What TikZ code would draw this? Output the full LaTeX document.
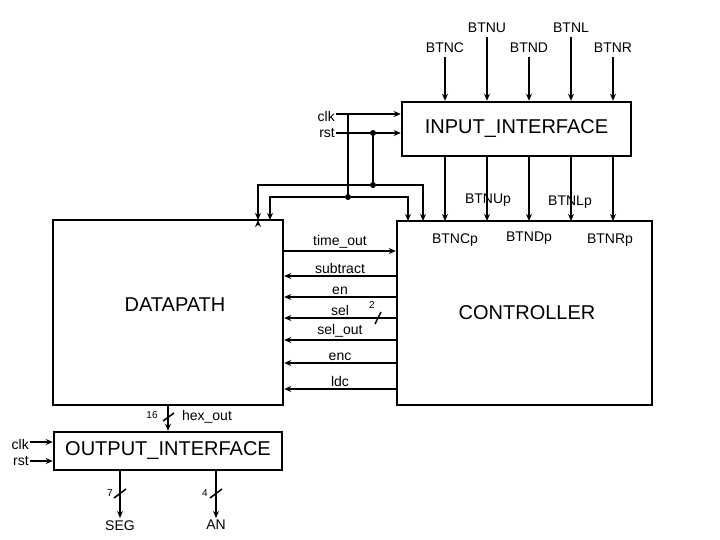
\documentclass[tikz,border=0pt]{standalone}
\usepackage{fontspec}
\setmainfont{Liberation Sans}
\usetikzlibrary{positioning,arrows.meta}
\begin{document}
\begin{tikzpicture}[x=1pt,y=-1pt,
                block/.style={rectangle, draw=black, line width=2.5pt, inner sep=0pt},
                sig/.style={line width=2.5pt},
                lbl/.style={font=\fontsize{14}{14}\selectfont, inner sep=1pt},
                big/.style={font=\fontsize{20}{20}\selectfont},
                num/.style={font=\fontsize{10}{10}\selectfont, inner sep=1pt},
                dot/.style={circle, fill=black, inner sep=0pt, minimum size=6pt},
                >={Stealth[length=7pt,width=6pt]}
            ]
            \useasboundingbox (0,0) rectangle (720,540);

            %blocks
            \node[block, minimum width=229pt, minimum height=54pt] (II) at (516.5,129) {};
            \node[big] at (II) {INPUT\_INTERFACE};
            \node[block, minimum width=230pt, minimum height=185pt] (DP) at (168,312.5) {};
            \node[big] at (175,305) {DATAPATH};
            \node[block, minimum width=255pt, minimum height=184pt] (CT) at (524.5,313) {};
            \node[big] at (527,313) {CONTROLLER};
            \node[block, minimum width=228pt, minimum height=38pt] (OI) at (168,451) {};
            \node[big] at (OI) {OUTPUT\_INTERFACE};

            %buttons in
            \foreach \name/\x/\y in {BTNC/445/57, BTNU/487/37, BTND/529/57, BTNL/571/37, BTNR/613/57} {
                \coordinate (\name) at (\x,\y);
                \node[lbl, above=3pt of \name] {\name};
                \draw[->, sig] (\name) -- (\name |- II.north);
            }

            %buttons out
            \foreach \x in {445,487,529,571,613}
                \draw[->, sig] (\x,156) -- (\x,221);
            \node[lbl] at (488,200) {BTNUp};
            \node[lbl] at (570,202) {BTNLp};
            \node[lbl] at (455,240) {BTNCp};
            \node[lbl] at (529,238) {BTNDp};
            \node[lbl] at (610,240) {BTNRp};

            %clock and reset
            \coordinate (clk) at (336,114);
            \coordinate (rst) at (336,133);
            \node[lbl, left=0pt of clk, yshift=-2pt] {clk};
            \node[lbl, left=0pt of rst] {rst};
            \draw[->, sig] (clk) -- (clk -| II.west);
            \draw[->, sig] (rst) -- (rst -| II.west);
            \node[dot] (rd) at (373,133) {};
            \node[dot] (rj) at (373,185) {};
            \node[dot] (cj) at (348,197) {};
            \draw[sig] (348,114) -- (cj);
            \draw[sig] (rd) -- (rj);
            \draw[->, sig] (258,220) ++(0,0) coordinate (a);
            \draw[->, sig] (rj) -- (258,185) -- (258,220);
            \draw[->, sig] (rj) -- (423,185) -- (423,221);
            \draw[->, sig] (cj) -- (270,197) -- (270,220);
            \draw[->, sig] (cj) -- (408,197) -- (408,221);

            %control signals
            \draw[->, sig] (DP.east |- 0,251) -- (CT.west |- 0,251) node[lbl, midway, above] {time\_out};
            \foreach \y/\t in {276/subtract, 297/en, 318/sel, 340/sel\_out, 363/enc, 389/ldc}
                \draw[->, sig] (CT.west |- 0,\y) -- (DP.east |- 0,\y) node[lbl, midway, above] {\t};
            \draw[line width=1.5pt] (375,324) -- (381,312);
            \node[num] at (372,305) {2};

            %outputs
            \draw[->, sig] (DP.south) -- (OI.north);
            \draw[line width=1.5pt] (163,421) -- (174,413);
            \node[num] at (152,415) {16};
            \node[lbl] at (207,417) {hex\_out};
            \coordinate (oclk) at (30,442);
            \coordinate (orst) at (30,461);
            \node[lbl, left=0pt of oclk, yshift=-2pt] {clk};
            \node[lbl, left=0pt of orst] {rst};
            \draw[->, sig] (oclk) -- (oclk -| OI.west);
            \draw[->, sig] (orst) -- (orst -| OI.west);
            \coordinate (SEG) at (120,518);
            \coordinate (AN) at (216,518);
            \draw[->, sig] (SEG |- OI.south) -- (SEG) node[lbl, below=0pt] {SEG};
            \draw[->, sig] (AN |- OI.south) -- (AN) node[lbl, below=0pt] {AN};
            \draw[line width=1.5pt] (114,498) -- (126,489);
            \draw[line width=1.5pt] (210,498) -- (222,489);
            \node[num] at (110,493) {7};
            \node[num] at (205,493) {4};

            \end{tikzpicture}
\end{document}
